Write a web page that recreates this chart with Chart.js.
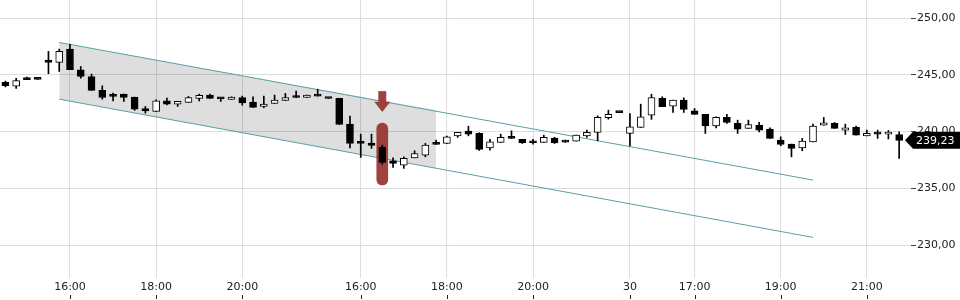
<!DOCTYPE html>
<html>
<head>
<meta charset="utf-8">
<script src="https://cdn.jsdelivr.net/npm/chart.js@4.4.1/dist/chart.umd.min.js"></script>
<style>
  html, body { margin: 0; padding: 0; background: #fff; }
  canvas { display: block; }
</style>
</head>
<body>
<canvas id="chart" width="960" height="300"></canvas>
<script>
// 15 min candles, x = candle index (session gaps removed)
const open = [244.35, 244.0, 244.6, 244.62, 246.3, 246.1, 247.27, 245.45, 244.86, 243.63,
  243.12, 243.3, 243.04, 242.04, 241.78, 242.71, 242.42, 242.57, 242.93, 243.22,
  242.92, 242.84, 243.0, 242.6, 242.22, 242.48, 242.75, 243.15, 243.01, 243.3,
  242.94, 242.93, 240.66, 239.1, 239.0, 238.61, 237.43, 237.05, 237.69, 237.93,
  239.0, 238.96, 239.63, 240.04, 239.84, 238.57, 239.05, 239.49, 239.31, 239.04,
  239.05, 239.43, 239.14, 239.16, 239.63, 239.93, 241.22, 241.7, 239.84, 240.37,
  241.45, 242.93, 242.25, 242.78, 241.83, 241.52, 240.51, 241.25, 240.72, 240.28,
  240.57, 240.22, 239.25, 238.9, 238.57, 239.1, 240.57, 240.72, 240.13, 240.37,
  239.63, 239.8, 239.78, 239.75];
const high = [244.45, 244.7, 244.8, 244.62, 247.07, 247.27, 247.7, 245.74, 245.07, 244.04,
  243.39, 243.3, 243.04, 242.22, 242.8, 242.95, 242.66, 243.1, 243.3, 243.3,
  243.0, 243.07, 243.13, 243.07, 243.13, 243.22, 243.37, 243.57, 243.22, 243.74,
  242.94, 242.93, 241.37, 239.78, 239.78, 238.81, 237.69, 237.78, 238.31, 238.96,
  239.25, 239.6, 239.93, 240.48, 239.9, 239.31, 239.78, 240.07, 239.31, 239.31,
  239.69, 239.5, 239.25, 239.69, 240.13, 241.39, 241.89, 241.7, 241.6, 242.42,
  243.3, 243.07, 242.78, 242.98, 242.04, 241.52, 241.3, 241.52, 241.01, 241.01,
  240.81, 240.33, 239.54, 238.9, 239.4, 240.66, 241.25, 240.81, 240.66, 240.48,
  240.13, 240.13, 240.1, 239.98];
const low = [243.95, 243.8, 244.58, 244.6, 245.1, 245.3, 245.45, 244.71, 243.63, 242.86,
  242.71, 242.66, 241.87, 241.63, 241.78, 242.36, 242.22, 242.57, 242.7, 242.93,
  242.66, 242.84, 242.33, 242.13, 242.1, 242.48, 242.75, 243.0, 243.01, 243.13,
  242.92, 240.63, 238.57, 237.73, 238.52, 237.12, 236.85, 236.76, 237.69, 237.78,
  238.87, 238.96, 239.49, 239.63, 238.34, 238.37, 239.05, 239.4, 238.96, 238.9,
  239.05, 238.96, 239.04, 239.16, 239.49, 239.19, 241.1, 241.68, 238.75, 240.37,
  241.08, 242.19, 241.69, 241.69, 241.52, 239.84, 240.33, 240.72, 239.84, 240.28,
  239.98, 239.4, 238.75, 237.78, 238.31, 239.1, 240.57, 240.28, 239.75, 239.69,
  239.63, 239.4, 239.35, 237.64];
const close = [244.05, 244.5, 244.58, 244.6, 246.1, 247.07, 245.45, 244.86, 243.63, 243.01,
  243.1, 243.01, 241.98, 241.83, 242.71, 242.42, 242.66, 242.99, 243.19, 242.93,
  242.88, 243.04, 242.54, 242.13, 242.42, 242.77, 243.01, 243.01, 243.22, 243.13,
  242.92, 240.63, 238.96, 238.96, 238.78, 237.29, 237.2, 237.64, 238.07, 238.81,
  238.87, 239.54, 239.93, 239.78, 238.43, 239.1, 239.49, 239.4, 239.01, 239.02,
  239.49, 239.01, 239.07, 239.69, 239.93, 241.25, 241.52, 241.68, 240.42, 241.3,
  243.01, 242.19, 242.78, 241.96, 241.52, 240.51, 241.25, 240.81, 240.22, 240.63,
  240.13, 239.4, 238.87, 238.52, 239.16, 240.48, 240.78, 240.28, 240.33, 239.69,
  239.84, 239.78, 239.8, 239.23];

const tickIdx = [6, 14, 22, 33, 41, 49, 58, 64, 72, 80];
const tickText = ["16:00", "18:00", "20:00", "16:00", "18:00", "20:00", "30", "17:00", "19:00", "21:00"];
const priceTicks = [230, 235, 240, 245, 250];

// trend channel (start / end candle, values at both ends)
const channelIdx = [5, 75];
const channelUpper = [247.86, 235.73];
const channelLower = [242.86, 230.68];
// shaded part of the channel
const shadeIdx = [5, 40];
const shadeUpper = [247.86, 241.89];
const shadeLower = [242.86, 236.76];

// signal marker
const signalIdx = 35;
const signalBar = [235.3, 240.75];
const signalArrow = [243.57, 242.63, 241.74]; // shaft top, head base, tip

const fmt = (v) => v.toFixed(2).replace(".", ",");
const pts = (idx, vals) => idx.map((x, i) => ({ x, y: vals[i] }));

const bodyColors = open.map((o, i) => (close[i] < o ? "#000" : "#fff"));

const extras = {
  id: "extras",
  afterDatasetsDraw(chart) {
    const { ctx, scales } = chart;
    const x = scales.x.getPixelForValue(signalIdx);
    const [top, base, tip] = signalArrow.map((v) => scales.y.getPixelForValue(v));
    ctx.save();
    ctx.fillStyle = "rgba(150, 45, 40, 0.9)";
    ctx.fillRect(x - 4, top, 8, base - top);
    ctx.beginPath();
    ctx.moveTo(x - 8, base);
    ctx.lineTo(x + 8, base);
    ctx.lineTo(x, tip);
    ctx.closePath();
    ctx.fill();
    ctx.restore();
  },
  afterDraw(chart) {
    const { ctx, scales, chartArea } = chart;
    ctx.save();
    // small tick marks under the time labels
    ctx.fillStyle = "#222";
    scales.x.ticks.forEach((t) => {
      const px = Math.round(scales.x.getPixelForValue(t.value));
      ctx.fillRect(px, 295, 1, 4);
    });
    // last price tag
    const last = close[close.length - 1];
    const y = scales.y.getPixelForValue(last);
    const tipX = chartArea.right - 6;
    ctx.fillStyle = "#000";
    ctx.beginPath();
    ctx.moveTo(tipX, y);
    ctx.lineTo(tipX + 8, y - 8.5);
    ctx.lineTo(960, y - 8.5);
    ctx.lineTo(960, y + 8.5);
    ctx.lineTo(tipX + 8, y + 8.5);
    ctx.closePath();
    ctx.fill();
    ctx.fillStyle = "#fff";
    ctx.font = "11px 'DejaVu Sans'";
    ctx.textBaseline = "middle";
    ctx.fillText(fmt(last), tipX + 11, y + 0.5);
    ctx.restore();
  },
};

Chart.defaults.font.family = "'DejaVu Sans', sans-serif";
Chart.defaults.font.size = 11;
Chart.defaults.color = "#222";

const canvas = document.querySelector("canvas#chart");
new Chart(canvas, {
  type: "bar",
  data: {
    datasets: [
      {
        label: "body",
        data: open.map((o, i) => ({ x: i, y: [o, close[i]] })),
        backgroundColor: bodyColors,
        borderColor: "#000",
        borderWidth: 1,
        borderSkipped: false,
        barThickness: 7,
        minBarLength: 2,
        grouped: false,
      },
      {
        label: "wick",
        data: low.map((l, i) => ({ x: i, y: [l, high[i]] })),
        backgroundColor: "#000",
        borderWidth: 0,
        barThickness: 1,
        grouped: false,
      },
      {
        label: "signal",
        data: [{ x: signalIdx, y: signalBar }],
        backgroundColor: "rgba(150, 45, 40, 0.9)",
        borderWidth: 0,
        borderSkipped: false,
        borderRadius: 6,
        barThickness: 11,
        grouped: false,
      },
      {
        type: "line",
        label: "upper",
        data: pts(channelIdx, channelUpper),
        borderColor: "#5b9fa6",
        borderWidth: 1,
        pointRadius: 0,
        fill: false,
      },
      {
        type: "line",
        label: "lower",
        data: pts(channelIdx, channelLower),
        borderColor: "#5b9fa6",
        borderWidth: 1,
        pointRadius: 0,
        fill: false,
      },
      {
        type: "line",
        label: "shadeTop",
        data: pts(shadeIdx, shadeUpper),
        borderWidth: 0,
        pointRadius: 0,
        backgroundColor: "rgba(0, 0, 0, 0.13)",
        fill: "+1",
      },
      {
        type: "line",
        label: "shadeBottom",
        data: pts(shadeIdx, shadeLower),
        borderWidth: 0,
        pointRadius: 0,
        fill: false,
      },
    ],
  },
  options: {
    responsive: false,
    animation: false,
    devicePixelRatio: 1,
    layout: { padding: 0 },
    plugins: { legend: { display: false }, tooltip: { enabled: false } },
    scales: {
      x: {
        type: "linear",
        min: -0.5,
        max: 84.1,
        offset: false,
        afterBuildTicks: (s) => { s.ticks = tickIdx.map((v) => ({ value: v })); },
        afterFit: (s) => { s.height = 22; s.paddingLeft = 0; s.paddingRight = 0; },
        grid: { color: "#dddddd", offset: false, drawTicks: false },
        border: { display: false },
        ticks: {
          padding: 3,
          maxRotation: 0,
          autoSkip: false,
          callback: (v) => tickText[tickIdx.indexOf(v)],
        },
      },
      y: {
        position: "right",
        min: 227.1,
        max: 251.6,
        beginAtZero: false,
        afterBuildTicks: (s) => { s.ticks = priceTicks.map((v) => ({ value: v })); },
        afterFit: (s) => { s.width = 49; s.paddingTop = 0; s.paddingBottom = 0; },
        grid: { color: "#dddddd", tickColor: "#444", tickLength: 5 },
        border: { display: false },
        ticks: { padding: 1, callback: (v) => fmt(v) },
      },
    },
  },
  plugins: [extras],
});
</script>
</body>
</html>
